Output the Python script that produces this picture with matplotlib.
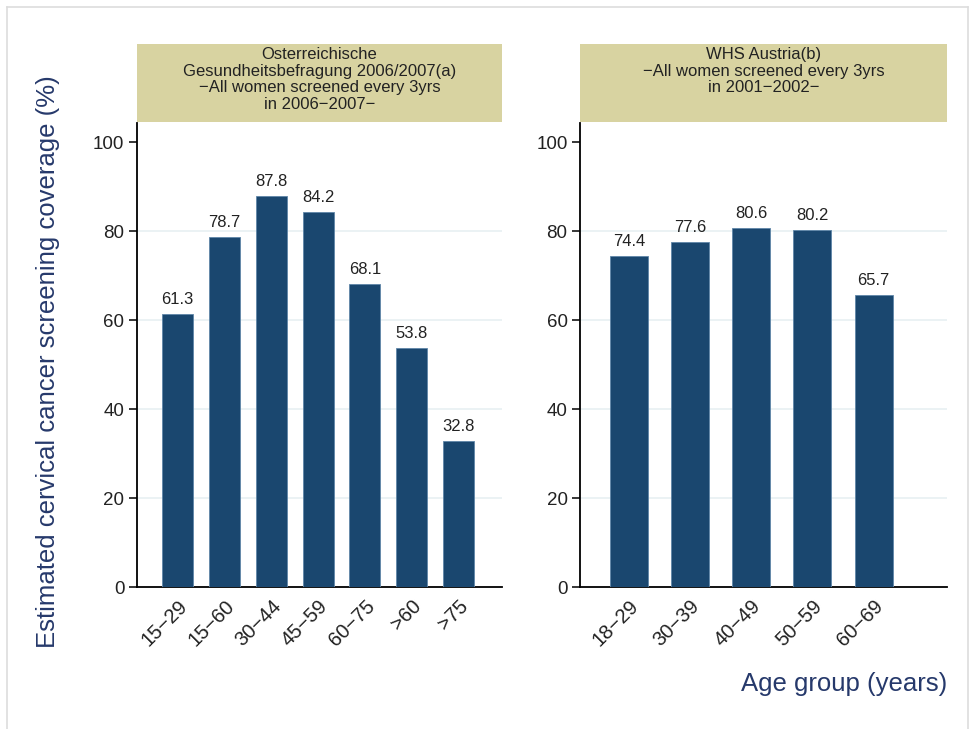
import matplotlib
matplotlib.use("Agg")
import matplotlib.pyplot as plt
from matplotlib.patches import Rectangle
from matplotlib.lines import Line2D

plt.rcParams['font.family'] = ['Liberation Sans', 'DejaVu Sans']

# data
ages_oe = ['15\u221229', '15\u221260', '30\u221244', '45\u221259', '60\u221275', '>60', '>75']
cov_oe = [61.3, 78.7, 87.8, 84.2, 68.1, 53.8, 32.8]
ages_whs = ['18\u221229', '30\u221239', '40\u221249', '50\u221259', '60\u221269']
cov_whs = [74.4, 77.6, 80.6, 80.2, 65.7]

title_oe = ('Osterreichische\nGesundheitsbefragung 2006/2007(a)\n'
            '\u2212All women screened every 3yrs\nin 2006\u22122007\u2212')
title_whs = 'WHS Austria(b)\n\u2212All women screened every 3yrs\nin 2001\u22122002\u2212'
y_ticks = [0, 20, 40, 60, 80, 100]

bar_col = '#1a476f'
head_col = '#d8d3a1'
grid_col = '#e8f0f2'
navy_txt = '#26396b'

W, H = 976, 729
fig = plt.figure(figsize=(9.76, 7.29), dpi=100)

# light outer frame
for xs, ys in [((7, 7), (0, 722)), ((7, 968), (722, 722)), ((968, 968), (0, 722))]:
    fig.add_artist(Line2D([x / W for x in xs], [y / H for y in ys], color='#dddddd', lw=1.2))


def panel(x0, x1, cats, vals, xlim, bw, title):
    ax = fig.add_axes([x0 / W, 1 - 587 / H, (x1 - x0) / W, (587 - 123) / H])
    xs = list(range(len(cats)))
    ax.bar(xs, vals, width=bw, color=bar_col, edgecolor='#5f86a8', linewidth=0.6, zorder=3)
    for x, v in zip(xs, vals):
        ax.annotate('%.1f' % v, (x, v), xytext=(0, 5), textcoords='offset points',
                    ha='center', va='bottom', fontsize=12, color='#222222')
    ax.set_xlim(*xlim)
    ax.set_ylim(0, 104.3)
    ax.set_yticks(y_ticks)
    ax.set_yticklabels([str(t) for t in y_ticks], fontsize=13.5, color='#222222')
    ax.set_xticks(xs)
    ax.set_xticklabels(cats, rotation=45, ha='right', rotation_mode='anchor',
                       fontsize=14.5, color='#222222')
    ax.tick_params(axis='x', length=0, pad=7)
    ax.tick_params(axis='y', length=6, width=1.1, pad=3)
    for g in y_ticks[1:-1]:
        ax.axhline(g, color=grid_col, lw=1.2, zorder=1)
    for s in ['top', 'right']:
        ax.spines[s].set_visible(False)
    ax.spines['left'].set_linewidth(1.3)
    ax.spines['bottom'].set_linewidth(1.3)
    # header box
    fig.add_artist(Rectangle((x0 / W, 1 - 122 / H), (x1 - x0) / W, 78 / H,
                             transform=fig.transFigure, facecolor=head_col,
                             edgecolor='none'))
    fig.text((x0 + x1) / 2 / W, 1 - 47 / H, title, ha='center', va='top',
             fontsize=12, linespacing=1.13, color='#222222')
    return ax


ax1 = panel(137, 502, ages_oe, cov_oe, (-0.87, 6.93), 0.66, title_oe)
ax2 = panel(580, 947, ages_whs, cov_whs, (-0.8, 5.2), 0.62, title_whs)

fig.text(48 / W, 1 - 362 / H, 'Estimated cervical cancer screening coverage (%)',
         rotation=90, ha='center', va='center', fontsize=18.5, color=navy_txt)
fig.text(947 / W, 1 - 684 / H, 'Age group (years)', ha='right', va='center',
         fontsize=18.5, color=navy_txt)

fig.savefig('out.png', dpi=100)
